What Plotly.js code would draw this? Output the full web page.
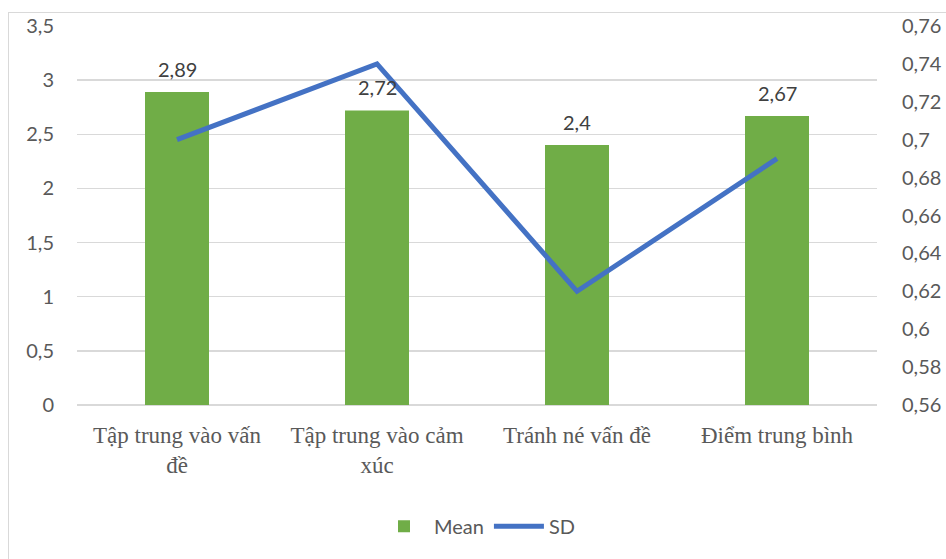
<!DOCTYPE html>
<html>
<head>
<meta charset="utf-8">
<script src="https://cdn.plot.ly/plotly-3.0.1.min.js"></script>
<style>
html,body{margin:0;padding:0;background:#fff;}
#frame{position:absolute;left:8px;top:12px;width:960px;height:600px;border:1.5px solid #D9D9D9;box-sizing:border-box;pointer-events:none;}
#chart{position:absolute;left:0;top:0;width:946px;height:559px;}
</style>
</head>
<body>
<div id="chart"></div>
<div id="frame"></div>
<script>
var categories = ["Tập trung vào vấn<br>đề", "Tập trung vào cảm<br>xúc", "Tránh né vấn đề", "Điểm trung bình"];
var meanValues = [2.89, 2.72, 2.4, 2.67];
var sdValues = [0.70, 0.74, 0.62, 0.69];
var meanLabels = ["2,89", "2,72", "2,4", "2,67"];

var grey = "#595959";
var tickFont = {family: "Lato, 'Open Sans', sans-serif", size: 20, color: grey};

var traces = [
  {
    type: "bar", name: "Mean", x: categories, y: meanValues,
    marker: {color: "#70AD47"}, width: 0.32, hoverinfo: "none"
  },
  {
    type: "scatter", mode: "lines", name: "SD", x: categories, y: sdValues,
    yaxis: "y2", line: {color: "#4472C4", width: 5}, hoverinfo: "none"
  }
];

var annotations = categories.map(function (c, i) {
  return {
    x: c, y: meanValues[i], xref: "x", yref: "y", text: meanLabels[i],
    showarrow: false, yanchor: "bottom", yshift: 9,
    font: {family: "Lato, 'Open Sans', sans-serif", size: 20, color: "#404040"}
  };
});

var layout = {
  width: 946, height: 559,
  margin: {l: 77, r: 69, t: 26, b: 154},
  paper_bgcolor: "#ffffff", plot_bgcolor: "#ffffff",
  separators: ",.",
  showlegend: true,
  legend: {
    orientation: "h", x: 0.5, xanchor: "center", y: -0.32, yanchor: "middle",
    font: tickFont, itemwidth: 50, traceorder: "normal"
  },
  xaxis: {
    type: "category", showgrid: false, zeroline: false, showline: false,
    ticks: "", ticklabelstandoff: 14, automargin: false,
    tickfont: {family: "'Liberation Serif', 'Times New Roman', serif", size: 23, color: grey}
  },
  yaxis: {
    range: [0, 3.5], dtick: 0.5, tick0: 0, showgrid: true, gridcolor: "#D9D9D9", gridwidth: 1.5,
    zeroline: true, zerolinecolor: "#D9D9D9", zerolinewidth: 1.5, showline: false, ticks: "",
    ticklabelstandoff: 22, tickfont: tickFont, automargin: false
  },
  yaxis2: {
    range: [0.56, 0.76], dtick: 0.02, tick0: 0.56, overlaying: "y", side: "right",
    showgrid: false, zeroline: false, showline: false, ticks: "",
    ticklabelstandoff: 24, tickfont: tickFont, automargin: false
  },
  annotations: annotations
};

Plotly.newPlot("chart", traces, layout, {displayModeBar: false, staticPlot: true});
</script>
</body>
</html>
